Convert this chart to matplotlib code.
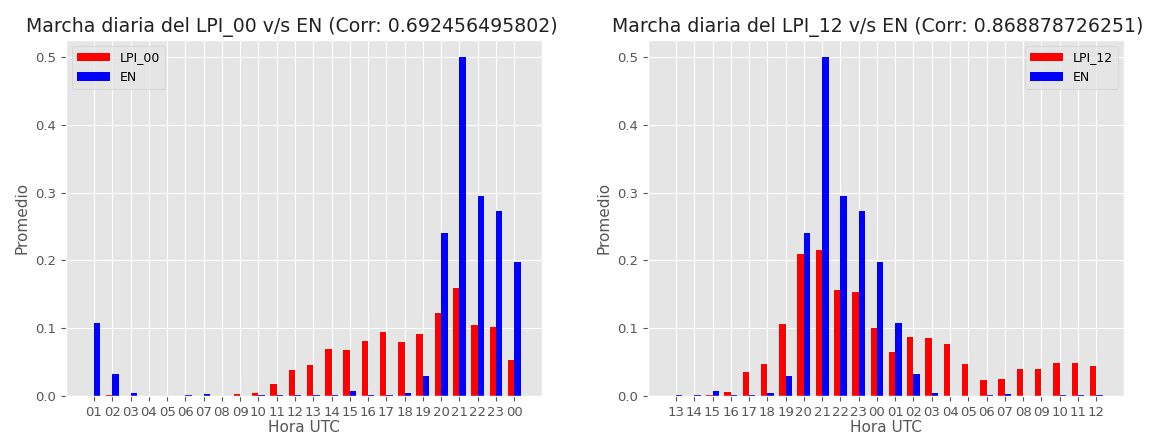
import matplotlib
matplotlib.use("Agg")
import matplotlib.pyplot as plt
import numpy as np

plt.style.use("ggplot")
plt.rcParams["font.family"] = ["DejaVu Sans"]

# Hour labels for each panel
hours_00 = ["01", "02", "03", "04", "05", "06", "07", "08", "09", "10", "11", "12",
            "13", "14", "15", "16", "17", "18", "19", "20", "21", "22", "23", "00"]
hours_12 = ["13", "14", "15", "16", "17", "18", "19", "20", "21", "22", "23", "00",
            "01", "02", "03", "04", "05", "06", "07", "08", "09", "10", "11", "12"]

# Mean daily cycle of lightning potential index (00 and 12 UTC runs)
lpi_00 = [0.0, 0.001, 0.0, 0.0, 0.0, 0.0, 0.0, 0.0, 0.003, 0.005, 0.017, 0.038,
          0.046, 0.069, 0.068, 0.081, 0.094, 0.080, 0.092, 0.123, 0.160, 0.105, 0.102, 0.053]
lpi_12 = [0.0, 0.0, 0.001, 0.006, 0.035, 0.047, 0.106, 0.209, 0.215, 0.156, 0.154, 0.101,
          0.065, 0.087, 0.085, 0.076, 0.047, 0.023, 0.025, 0.040, 0.040, 0.049, 0.049, 0.044]

# Observed electrical activity (EN) for the same hours
en_00 = [0.107, 0.032, 0.005, 0.0, 0.0, 0.002, 0.003, 0.0, 0.0, 0.001, 0.001, 0.001,
         0.002, 0.002, 0.007, 0.001, 0.002, 0.004, 0.030, 0.241, 0.500, 0.295, 0.273, 0.197]
en_12 = [0.002, 0.002, 0.007, 0.001, 0.002, 0.004, 0.030, 0.241, 0.500, 0.295, 0.273, 0.197,
         0.107, 0.032, 0.005, 0.0, 0.0, 0.002, 0.003, 0.0, 0.0, 0.001, 0.001, 0.001]

corr_00 = "0.692456495802"
corr_12 = "0.868878726251"

fig = plt.figure(figsize=(11.56, 4.37), dpi=100)
ax1 = fig.add_axes([0.0571, 0.0938, 0.412, 0.8146])
ax2 = fig.add_axes([0.5605, 0.0938, 0.412, 0.8146])

width = 0.35


def panel(ax, hours, lpi, en, lpi_name, corr, loc, title_x):
    x = np.arange(len(hours))
    ax.bar(x - width / 2, lpi, width, color="red", linewidth=0, label=lpi_name)
    ax.bar(x + width / 2, en, width, color="blue", linewidth=0, label="EN")
    ax.set_xticks(x)
    ax.set_xticklabels(hours, fontsize=9.5)
    ax.set_yticks([0.0, 0.1, 0.2, 0.3, 0.4, 0.5])
    ax.tick_params(axis="y", labelsize=9.5)
    ax.set_xlabel("Hora UTC", fontsize=11, labelpad=1)
    ax.set_ylabel("Promedio", fontsize=11)
    ax.set_title("Marcha diaria del %s v/s EN (Corr: %s)" % (lpi_name, corr),
                 fontsize=13.6, color="#222222", x=title_x)
    ax.legend(loc=loc, fontsize=9, handlelength=2.6)


panel(ax1, hours_00, lpi_00, en_00, "LPI_00", corr_00, "upper left", 0.475)
panel(ax2, hours_12, lpi_12, en_12, "LPI_12", corr_12, "upper right", 0.482)

fig.savefig("out.png", dpi=100)
